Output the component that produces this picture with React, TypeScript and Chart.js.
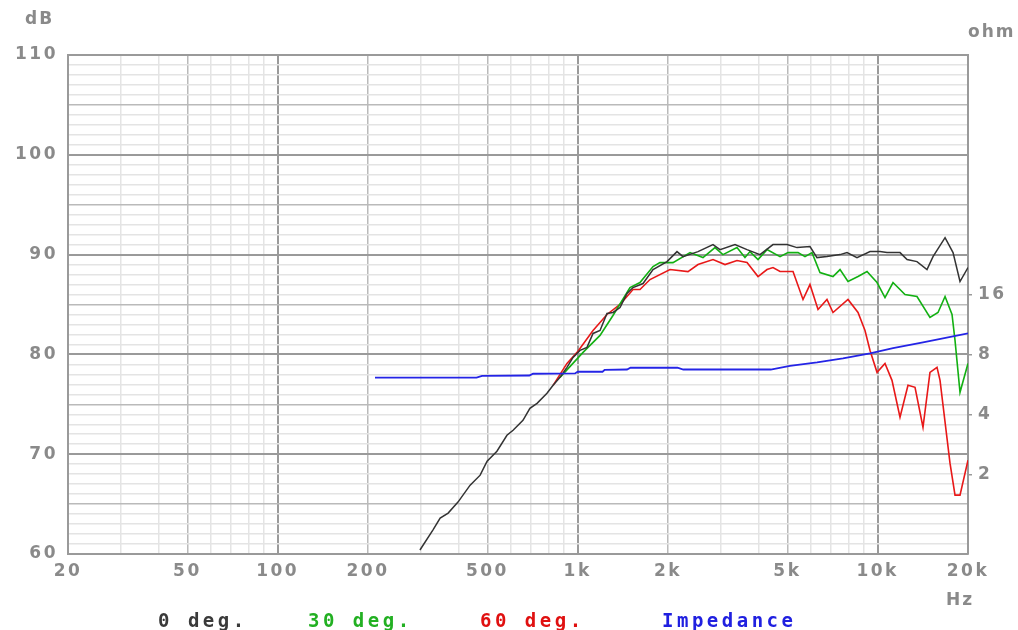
import React, { useEffect, useRef } from 'react';
import { Chart, registerables } from 'chart.js';

Chart.register(...registerables);

// ---------- data ----------
// 0 deg. on-axis SPL (dB)
const freq0 = [298, 329, 348, 370, 399, 438, 473, 499, 538, 581, 609, 657, 693, 732, 790, 828, 873, 921, 965, 1018, 1074, 1125, 1187, 1252, 1311, 1384, 1460, 1529, 1651, 1783, 1985, 2143, 2244, 2518, 2825, 2982, 3345, 3668, 4052, 4477, 4986, 5383, 5947, 6276, 6776, 7490, 7903, 8531, 9429, 10180, 10740, 11870, 12530, 13520, 14600, 15290, 16770, 17830, 18810, 20000];
const spl0 = [60.4, 62.4, 63.6, 64.1, 65.2, 66.9, 67.9, 69.3, 70.3, 71.9, 72.4, 73.4, 74.6, 75.1, 76.1, 76.9, 77.7, 78.7, 79.7, 80.4, 80.7, 82.1, 82.4, 84.1, 84.2, 84.7, 86.1, 86.7, 87.1, 88.5, 89.3, 90.3, 89.8, 90.3, 91.0, 90.5, 91.0, 90.5, 90.0, 91.0, 91.0, 90.7, 90.8, 89.7, 89.8, 90.0, 90.2, 89.7, 90.3, 90.3, 90.2, 90.2, 89.5, 89.3, 88.5, 89.8, 91.7, 90.2, 87.3, 88.7];

// 30 deg.
const freq30 = [873, 1042, 1187, 1311, 1494, 1613, 1783, 1880, 2078, 2369, 2616, 2868, 3049, 3396, 3611, 3752, 3991, 4276, 4726, 5024, 5426, 5724, 6040, 6421, 7096, 7490, 7962, 8599, 9213, 9949, 10577, 11247, 12331, 13520, 14938, 15887, 16770, 17692, 18103, 18810, 20000];
const spl30 = [77.7, 80.2, 81.9, 83.9, 86.7, 87.2, 88.8, 89.2, 89.2, 90.2, 89.7, 90.7, 90.0, 90.7, 89.7, 90.3, 89.5, 90.5, 89.8, 90.2, 90.2, 89.8, 90.2, 88.2, 87.8, 88.5, 87.3, 87.8, 88.3, 87.2, 85.7, 87.2, 86.0, 85.8, 83.7, 84.2, 85.8, 84.0, 81.4, 76.2, 79.1];

// 60 deg.
const freq60 = [828, 921, 995, 1125, 1252, 1384, 1529, 1613, 1742, 2031, 2332, 2518, 2825, 3098, 3396, 3668, 3991, 4276, 4477, 4726, 5221, 5637, 5947, 6325, 6776, 7096, 7962, 8599, 9072, 9429, 9949, 10577, 11160, 11868, 12619, 13318, 14158, 14938, 15766, 16136, 17420, 18103, 18810, 20000];
const spl60 = [76.9, 79.1, 80.2, 82.4, 84.0, 85.0, 86.5, 86.5, 87.5, 88.5, 88.3, 89.0, 89.5, 89.0, 89.4, 89.2, 87.8, 88.5, 88.7, 88.3, 88.3, 85.5, 87.0, 84.5, 85.5, 84.2, 85.5, 84.2, 82.4, 80.4, 78.2, 79.1, 77.4, 73.7, 76.9, 76.7, 72.7, 78.2, 78.7, 77.4, 69.1, 65.9, 65.9, 69.4];

// Impedance (ohm)
const freqZ = [211, 460, 480, 690, 710, 980, 1000, 1210, 1230, 1460, 1500, 2150, 2250, 4400, 5100, 6280, 7660, 9430, 11250, 14160, 20000];
const impZ = [6.12, 6.12, 6.25, 6.27, 6.4, 6.42, 6.55, 6.55, 6.7, 6.72, 6.86, 6.86, 6.72, 6.72, 7.0, 7.3, 7.65, 8.1, 8.6, 9.2, 10.2];

const seriesLabels = ['0 deg.', '30 deg.', '60 deg.', 'Impedance'];
const seriesColors = ['#333333', '#12b012', '#e81818', '#2424e6'];
const legendColors = ['#3a3a3a', '#22b022', '#e01010', '#2020e0'];

// ---------- axes ----------
const xGridValues = [20, 30, 40, 50, 60, 70, 80, 90, 100, 200, 300, 400, 500, 600, 700, 800, 900, 1000, 2000, 3000, 4000, 5000, 6000, 7000, 8000, 9000, 10000, 20000];
const xTickValues = [20, 50, 100, 200, 500, 1000, 2000, 5000, 10000, 20000];
const xTickLabels = ['20', '50', '100', '200', '500', '1k', '2k', '5k', '10k', '20k'];
const xMajor = [100, 1000, 10000];
const xMedium = [50, 200, 500, 2000, 5000];
const yTickLabels = [60, 70, 80, 90, 100, 110];
const zTickValues = [2, 4, 8, 16];

const DB_MIN = 60;
const DB_MAX = 110;
// impedance axis: 8 ohm sits on 80 dB, 6.02 dB per doubling
const Z_MIN = 0.8;
const Z_MAX = 8 * Math.pow(10, 1.5);

const C_MAJOR = '#9a9a9a';
const C_MEDIUM = '#bababa';
const C_LIGHT = '#e4e4e4';
const TEXT = '#8a8a8a';

const tickFont = { family: '"DejaVu Sans", Verdana, sans-serif', weight: 'bold' as const, size: 17 };

const toPts = (xs: number[], ys: number[]) => xs.map((x, i) => ({ x, y: ys[i] }));

const spacingPlugin = {
  id: 'letterSpacing',
  beforeLayout(chart: any) {
    chart.ctx.letterSpacing = '2.5px';
  },
  beforeDraw(chart: any) {
    chart.ctx.letterSpacing = '2.5px';
  },
};

export default function App() {
  const canvasRef = useRef<HTMLCanvasElement | null>(null);

  useEffect(() => {
    if (!canvasRef.current) return;
    const dbGrid: number[] = [];
    for (let v = DB_MIN; v <= DB_MAX; v++) dbGrid.push(v);

    const chart = new Chart(canvasRef.current, {
      type: 'line',
      data: {
        datasets: [
          { label: seriesLabels[3], data: toPts(freqZ, impZ), yAxisID: 'y2', borderColor: seriesColors[3], borderWidth: 1.8, pointRadius: 0, tension: 0 },
          { label: seriesLabels[0], data: toPts(freq0, spl0), yAxisID: 'y', borderColor: seriesColors[0], borderWidth: 1.5, pointRadius: 0, tension: 0 },
          { label: seriesLabels[1], data: toPts(freq30, spl30), yAxisID: 'y', borderColor: seriesColors[1], borderWidth: 1.6, pointRadius: 0, tension: 0 },
          { label: seriesLabels[2], data: toPts(freq60, spl60), yAxisID: 'y', borderColor: seriesColors[2], borderWidth: 1.6, pointRadius: 0, tension: 0 },
        ],
      },
      options: {
        animation: false,
        responsive: true,
        maintainAspectRatio: false,
        layout: { padding: { top: 55, left: 0, right: 0, bottom: 0 } },
        plugins: { legend: { display: false }, tooltip: { enabled: false } },
        scales: {
          x: {
            type: 'logarithmic',
            min: 20,
            max: 20000,
            afterBuildTicks: (s: any) => {
              s.ticks = xGridValues.map((v) => ({ value: v }));
            },
            afterFit: (s: any) => {
              s.height = 76;
            },
            ticks: {
              autoSkip: false,
              maxRotation: 0,
              minRotation: 0,
              padding: 7,
              color: TEXT,
              font: tickFont,
              callback: (v: any) => {
                const i = xTickValues.indexOf(Math.round(Number(v)));
                return i >= 0 ? xTickLabels[i] : '';
              },
            },
            grid: {
              drawTicks: false,
              color: (ctx: any) => {
                const v = Math.round(ctx.tick?.value ?? 0);
                if (v === 20 || v === 20000 || xMajor.includes(v)) return C_MAJOR;
                if (xMedium.includes(v)) return C_MEDIUM;
                return C_LIGHT;
              },
              lineWidth: (ctx: any) => {
                const v = Math.round(ctx.tick?.value ?? 0);
                if (v === 20000 || xMajor.includes(v)) return 2;
                return 1.5;
              },
            },
            border: { display: true, color: C_MAJOR, width: 2 },
          },
          y: {
            type: 'linear',
            position: 'left',
            min: DB_MIN,
            max: DB_MAX,
            afterBuildTicks: (s: any) => {
              s.ticks = dbGrid.map((v) => ({ value: v }));
            },
            afterFit: (s: any) => {
              s.width = 68;
            },
            ticks: {
              autoSkip: false,
              padding: 10,
              color: TEXT,
              font: tickFont,
              callback: (v: any) => (yTickLabels.includes(Number(v)) ? String(v) : ''),
            },
            grid: {
              drawTicks: false,
              color: (ctx: any) => {
                const v = ctx.tick?.value ?? 0;
                if (v % 10 === 0) return C_MAJOR;
                if (v % 5 === 0) return C_MEDIUM;
                return C_LIGHT;
              },
              lineWidth: (ctx: any) => {
                const v = ctx.tick?.value ?? 0;
                return v % 10 === 0 ? 2 : 1.5;
              },
            },
            border: { display: true, color: C_MAJOR, width: 2 },
          },
          y2: {
            type: 'logarithmic',
            position: 'right',
            min: Z_MIN,
            max: Z_MAX,
            afterBuildTicks: (s: any) => {
              s.ticks = zTickValues.map((v) => ({ value: v }));
            },
            afterFit: (s: any) => {
              s.width = 50;
            },
            ticks: {
              autoSkip: false,
              padding: 6,
              color: TEXT,
              font: tickFont,
              callback: (v: any) => String(v),
            },
            grid: { drawOnChartArea: false, drawTicks: true, tickLength: 4, color: C_MAJOR, lineWidth: 1.5 },
            border: { display: true, color: C_MAJOR, width: 2 },
          },
        },
      },
      plugins: [spacingPlugin],
    } as any);

    return () => chart.destroy();
  }, []);

  const titleStyle: React.CSSProperties = {
    position: 'absolute',
    fontFamily: '"DejaVu Sans", Verdana, sans-serif',
    fontWeight: 'bold',
    fontSize: '17px',
    letterSpacing: '2px',
    color: TEXT,
    lineHeight: '20px',
    whiteSpace: 'nowrap',
  };
  const legendStyle: React.CSSProperties = {
    position: 'absolute',
    top: '609px',
    fontFamily: '"DejaVu Sans Mono", "Liberation Mono", monospace',
    fontWeight: 'bold',
    fontSize: '19px',
    letterSpacing: '3.5px',
    lineHeight: '22px',
    whiteSpace: 'pre',
  };
  const legendLeft = [158, 308, 480, 662];

  return (
    <div style={{ position: 'fixed', left: 0, top: 0, width: '1018px', height: '630px', background: '#ffffff' }}>
      <canvas ref={canvasRef} />
      <div style={{ ...titleStyle, left: '25px', top: '8px' }}>dB</div>
      <div style={{ ...titleStyle, left: '968px', top: '21px' }}>ohm</div>
      <div style={{ ...titleStyle, left: '946px', top: '589px' }}>Hz</div>
      {seriesLabels.map((t, i) => (
        <div key={t} style={{ ...legendStyle, left: `${legendLeft[i]}px`, color: legendColors[i] }}>
          {t}
        </div>
      ))}
    </div>
  );
}
